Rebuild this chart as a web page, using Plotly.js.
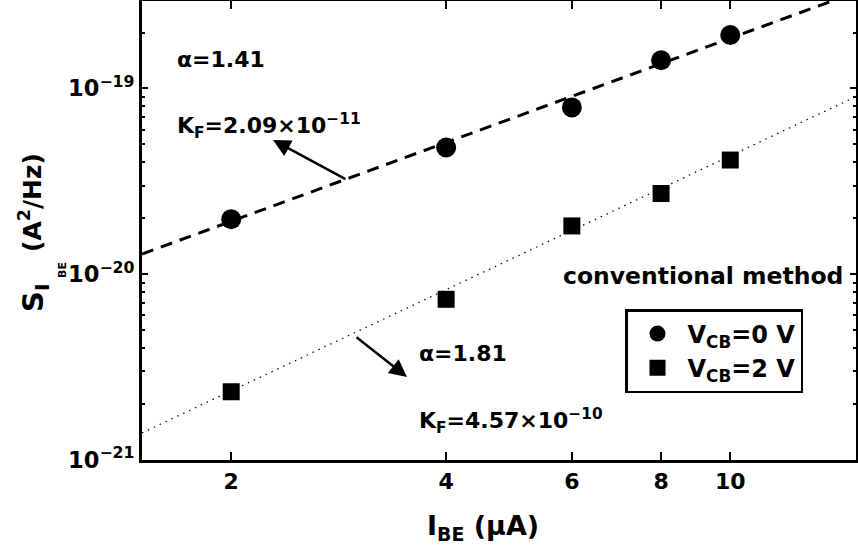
<!DOCTYPE html>
<html>
<head>
<meta charset="utf-8">
<script src="https://cdn.plot.ly/plotly-3.0.1.min.js"></script>
<style>html,body{margin:0;padding:0;background:#fff;}#plot{width:858px;height:550px;}</style>
</head>
<body>
<div id="plot"></div>
<script>
// ---- data ----
const I_BE = [2, 4, 6, 8, 10];                                   // µA
const S_VCB0 = [1.98e-20, 4.81e-20, 7.91e-20, 1.42e-19, 1.94e-19]; // A^2/Hz
const S_VCB2 = [2.33e-21, 7.33e-21, 1.82e-20, 2.72e-20, 4.12e-20]; // A^2/Hz
const fitX = [1.5, 15];
const fitVCB0 = [1.285e-20, 3.30e-19];   // dashed fit (alpha = 1.41)
const fitVCB2 = [1.40e-21, 9.04e-20];    // dotted fit (alpha = 1.81)
const xTickVals = [2, 4, 6, 8, 10];
const xTickText = ['2', '4', '6', '8', '10'];
const yTickVals = [1e-21, 1e-20, 1e-19];
const yTickText = ['10<sup>−21</sup>', '10<sup>−20</sup>', '10<sup>−19</sup>'];
const seriesNames = ['V<sub>CB</sub>=0 V', 'V<sub>CB</sub>=2 V'];

// minor ticks of the log y axis
const yMinor = [];
[-21, -20, -19].forEach(function (e) {
  for (let m = 2; m <= 9; m++) yMinor.push(m * Math.pow(10, e));
});

const FONT = 'DejaVu Sans, Arial, sans-serif';
const W = 858, H = 550, ML = 142, MR = 2, MT = 1, MB = 90;
const PW = W - ML - MR, PH = H - MT - MB;
function px(x) { return (x - ML) / PW; }
function py(y) { return (H - MB - y) / PH; }
function f(size) { return { family: FONT, size: size, color: 'black', weight: 'bold' }; }

const traces = [
  { x: fitX, y: fitVCB0, mode: 'lines', showlegend: false, hoverinfo: 'skip',
    line: { color: 'black', width: 3, dash: '12px,8px' } },
  { x: fitX, y: fitVCB2, mode: 'lines', showlegend: false, hoverinfo: 'skip',
    line: { color: 'black', width: 1.2, dash: '1.5px,5px' } },
  { x: I_BE, y: S_VCB0, mode: 'markers', name: seriesNames[0],
    marker: { symbol: 'circle', size: 20, color: 'black' } },
  { x: I_BE, y: S_VCB2, mode: 'markers', name: seriesNames[1],
    marker: { symbol: 'square', size: 17, color: 'black' } }
];

const txtFont = f(22);

const layout = {
  width: W, height: H,
  margin: { l: ML, r: MR, t: MT, b: MB, pad: 0 },
  paper_bgcolor: 'white', plot_bgcolor: 'white',
  font: txtFont,
  showlegend: true,
  legend: {
    x: px(625), y: py(309), xanchor: 'left', yanchor: 'top',
    bordercolor: 'black', borderwidth: 2.5, bgcolor: 'white',
    font: f(24), itemwidth: 50, tracegroupgap: 0
  },
  xaxis: {
    type: 'log', range: [Math.log10(1.5), Math.log10(15)],
    tickmode: 'array', tickvals: xTickVals, ticktext: xTickText,
    ticks: 'inside', ticklen: 8, tickwidth: 2, tickcolor: 'black',
    showline: true, linewidth: 3, linecolor: 'black', mirror: 'ticks',
    showgrid: false, zeroline: false,
    tickfont: f(22)
  },
  yaxis: {
    type: 'log', range: [-21, -18.529],
    tickmode: 'array', tickvals: yTickVals, ticktext: yTickText,
    ticks: 'inside', ticklen: 6, tickwidth: 2, tickcolor: 'black',
    minor: { tickmode: 'array', tickvals: yMinor, ticks: 'inside', ticklen: 3, tickwidth: 2, tickcolor: 'black', showgrid: false },
    showline: true, linewidth: 3, linecolor: 'black', mirror: 'ticks',
    showgrid: false, zeroline: false,
    tickfont: f(22.5)
  },
  annotations: [
    { xref: 'paper', yref: 'paper', x: px(175), y: py(60), xanchor: 'left', yanchor: 'middle',
      text: 'α=1.41', showarrow: false, font: txtFont },
    { xref: 'paper', yref: 'paper', x: px(175), y: py(126), xanchor: 'left', yanchor: 'middle',
      text: 'K<sub>F</sub>=2.09×10<sup>−11</sup>', showarrow: false, font: txtFont },
    { xref: 'paper', yref: 'paper', x: px(417), y: py(353), xanchor: 'left', yanchor: 'middle',
      text: 'α=1.81', showarrow: false, font: txtFont },
    { xref: 'paper', yref: 'paper', x: px(417), y: py(421), xanchor: 'left', yanchor: 'middle',
      text: 'K<sub>F</sub>=4.57×10<sup>−10</sup>', showarrow: false, font: txtFont },
    { xref: 'paper', yref: 'paper', x: px(845), y: py(276), xanchor: 'right', yanchor: 'middle',
      text: 'conventional method', showarrow: false, font: f(23.5) },
    // arrows
    { xref: 'paper', yref: 'paper', x: px(273), y: py(140), text: '', showarrow: true,
      ax: 74, ay: 40, arrowhead: 2, arrowsize: 1.4, arrowwidth: 2.5, arrowcolor: 'black', standoff: 0, startstandoff: 0 },
    { xref: 'paper', yref: 'paper', x: px(407), y: py(377), text: '', showarrow: true,
      ax: -52, ay: -41, arrowhead: 2, arrowsize: 1.4, arrowwidth: 2.5, arrowcolor: 'black', standoff: 0, startstandoff: 0 },
    // y axis title, built from rotated pieces: S_{I_{BE}} (A^2/Hz)
    { xref: 'paper', yref: 'paper', x: px(35), y: py(298), xanchor: 'center', yanchor: 'middle', textangle: -90,
      text: 'S<sub>I</sub>', showarrow: false, font: f(29) },
    { xref: 'paper', yref: 'paper', x: px(62), y: py(270), xanchor: 'center', yanchor: 'middle', textangle: -90,
      text: 'BE', showarrow: false, font: f(11) },
    { xref: 'paper', yref: 'paper', x: px(30), y: py(203), xanchor: 'center', yanchor: 'middle', textangle: -90,
      text: '(A<sup>2</sup>/Hz)', showarrow: false, font: f(25) },
    // x axis title
    { xref: 'paper', yref: 'paper', x: px(483), y: py(527), xanchor: 'center', yanchor: 'middle',
      text: 'I<sub>BE</sub> (μA)', showarrow: false, font: f(27) }
  ]
};

Plotly.newPlot('plot', traces, layout, { staticPlot: true, displayModeBar: false });
</script>
</body>
</html>
